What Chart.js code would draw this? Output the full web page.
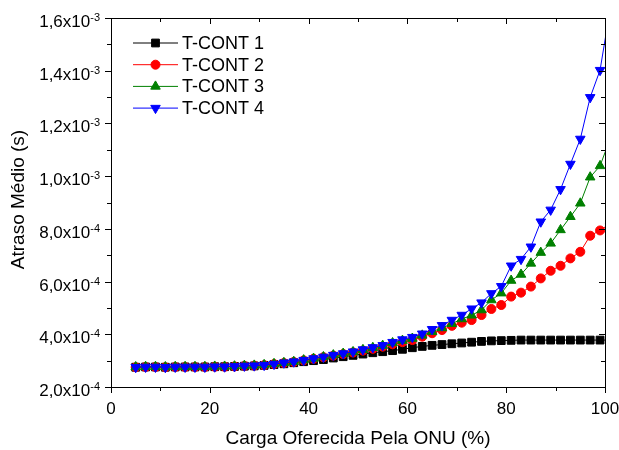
<!DOCTYPE html>
<html>
<head>
<meta charset="utf-8">
<script src="https://cdn.jsdelivr.net/npm/chart.js@4.4.1/dist/chart.umd.min.js"></script>
<style>
  html, body { margin: 0; padding: 0; background: #fff; }
  #wrap { width: 619px; height: 450px; }
</style>
</head>
<body>
<div id="wrap"><canvas id="delayChart" width="619" height="450"></canvas></div>
<script>
// offered load (%) -- last point sits just past the axis end, so only its line shows
const loadPct = [5, 7, 9, 11, 13, 15, 17, 19, 21, 23, 25, 27, 29, 31, 33, 35, 37, 39, 41, 43,
  45, 47, 49, 51, 53, 55, 57, 59, 61, 63, 65, 67, 69, 71, 73, 75, 77, 79, 81, 83,
  85, 87, 89, 91, 93, 95, 97, 99, 101];

// mean delay, in units of 1e-4 s
const tcont1 = [2.75, 2.76, 2.76, 2.75, 2.76, 2.76, 2.76, 2.76, 2.77, 2.77, 2.78, 2.79, 2.80, 2.82, 2.85, 2.88, 2.92, 2.96, 3.00, 3.04,
  3.10, 3.15, 3.20, 3.25, 3.30, 3.34, 3.38, 3.43, 3.49, 3.54, 3.58, 3.61, 3.64, 3.67, 3.70, 3.73, 3.75, 3.76, 3.77, 3.78,
  3.78, 3.78, 3.78, 3.78, 3.78, 3.78, 3.78, 3.78, 3.78];
const tcont2 = [2.75, 2.76, 2.76, 2.75, 2.76, 2.76, 2.76, 2.76, 2.77, 2.77, 2.78, 2.80, 2.81, 2.83, 2.87, 2.91, 2.95, 3.01, 3.07, 3.13,
  3.19, 3.25, 3.31, 3.38, 3.45, 3.53, 3.62, 3.70, 3.78, 3.91, 4.04, 4.16, 4.32, 4.44, 4.54, 4.73, 4.96, 5.11, 5.43, 5.58,
  5.81, 6.12, 6.41, 6.60, 6.88, 7.13, 7.74, 7.94, 8.20];
const tcont3 = [2.76, 2.77, 2.77, 2.76, 2.77, 2.77, 2.77, 2.77, 2.78, 2.78, 2.79, 2.81, 2.82, 2.84, 2.88, 2.92, 2.96, 3.02, 3.08, 3.14,
  3.21, 3.27, 3.33, 3.41, 3.49, 3.57, 3.67, 3.76, 3.84, 3.96, 4.10, 4.24, 4.40, 4.58, 4.72, 4.92, 5.30, 5.56, 6.04, 6.27,
  6.69, 7.10, 7.45, 7.96, 8.46, 8.97, 9.96, 10.39, 11.40];
const tcont4 = [2.75, 2.76, 2.76, 2.75, 2.76, 2.76, 2.76, 2.76, 2.77, 2.77, 2.78, 2.80, 2.81, 2.83, 2.87, 2.92, 2.96, 3.02, 3.08, 3.14,
  3.21, 3.27, 3.34, 3.42, 3.50, 3.58, 3.70, 3.80, 3.89, 4.02, 4.19, 4.34, 4.54, 4.73, 4.97, 5.20, 5.55, 5.82, 6.60, 6.85,
  7.32, 8.27, 8.72, 9.50, 10.46, 11.41, 12.99, 14.02, 16.30];

const seriesNames = ['T-CONT 1', 'T-CONT 2', 'T-CONT 3', 'T-CONT 4'];
const xTicks = [0, 20, 40, 60, 80, 100];
const yTicks = [2, 4, 6, 8, 10, 12, 14, 16];
const yTickMantissa = ['2,0', '4,0', '6,0', '8,0', '1,0', '1,2', '1,4', '1,6'];
const yTickExponent = ['-4', '-4', '-4', '-4', '-3', '-3', '-3', '-3'];

const FONT = '"Liberation Sans", Arial, sans-serif';

function toPoints(ys) {
  return loadPct.map((x, i) => ({ x: x, y: ys[i] }));
}

function makeSet(label, ys, color, style, rot, radius, order) {
  return {
    label: label,
    data: toPoints(ys),
    borderColor: color,
    backgroundColor: color,
    borderWidth: 1,
    tension: 0,
    pointStyle: style,
    pointRotation: rot,
    pointRadius: radius,
    pointBackgroundColor: color,
    pointBorderColor: color,
    pointBorderWidth: 1,
    order: order
  };
}

const datasets = [
  makeSet(seriesNames[0], tcont1, '#000000', 'rect', 0, 5.5, 3),
  makeSet(seriesNames[1], tcont2, '#ff0000', 'circle', 0, 4.5, 2),
  makeSet(seriesNames[2], tcont3, '#008000', 'triangle', 0, 5.5, 1),
  makeSet(seriesNames[3], tcont4, '#0000ff', 'triangle', 180, 5.5, 0)
];

function hline(ctx, x1, y1, x2, y2) {
  ctx.beginPath();
  ctx.moveTo(x1, y1);
  ctx.lineTo(x2, y2);
  ctx.stroke();
}

// frame, ticks, labels and the in-plot legend, Origin style
const originFrame = {
  id: 'originFrame',
  beforeDraw(chart) {
    const ctx = chart.ctx;
    ctx.save();
    ctx.fillStyle = '#fff';
    ctx.fillRect(0, 0, chart.width, chart.height);
    ctx.restore();
  },
  afterDraw(chart) {
    const { ctx, chartArea: a, scales: { x, y } } = chart;
    ctx.save();
    ctx.strokeStyle = '#000';
    ctx.lineWidth = 1;
    ctx.strokeRect(Math.round(a.left) + 0.5, Math.round(a.top) + 0.5,
      Math.round(a.right - a.left), Math.round(a.bottom - a.top));

    // x ticks: outward at bottom, inward at top
    for (let v = 0; v <= 100; v += 10) {
      const px = Math.round(x.getPixelForValue(v)) + 0.5;
      const len = v % 20 === 0 ? 6 : 4;
      hline(ctx, px, a.bottom, px, a.bottom + len);
      hline(ctx, px, a.top, px, a.top + len);
    }
    // y ticks: outward at left, inward at right
    for (let v = 2; v <= 16; v += 1) {
      const py = Math.round(y.getPixelForValue(v)) + 0.5;
      const len = v % 2 === 0 ? 6 : 4;
      hline(ctx, a.left - len, py, a.left, py);
      hline(ctx, a.right - len, py, a.right, py);
    }

    ctx.fillStyle = '#000';
    ctx.font = '17px ' + FONT;
    ctx.textAlign = 'center';
    ctx.textBaseline = 'alphabetic';
    xTicks.forEach(v => {
      ctx.fillText(String(v), x.getPixelForValue(v), a.bottom + 27);
    });

    yTicks.forEach((v, i) => {
      const py = y.getPixelForValue(v);
      ctx.font = '11px ' + FONT;
      const ew = ctx.measureText(yTickExponent[i]).width;
      ctx.textAlign = 'right';
      ctx.fillText(yTickExponent[i], a.left - 11, py + 3);
      ctx.font = '17px ' + FONT;
      ctx.fillText(yTickMantissa[i] + 'x10', a.left - 11 - ew, py + 9);
    });

    // axis titles
    ctx.font = '19px ' + FONT;
    ctx.textAlign = 'center';
    ctx.textBaseline = 'middle';
    ctx.fillText('Carga Oferecida Pela ONU (%)', (a.left + a.right) / 2, a.bottom + 52);
    ctx.save();
    ctx.translate(19, (a.top + a.bottom) / 2 - 3);
    ctx.rotate(-Math.PI / 2);
    ctx.fillText('Atraso Médio (s)', 0, 0);
    ctx.restore();

    // legend inside the plot
    chart.data.datasets.forEach((ds, i) => {
      const ly = a.top + 25 + i * 21.7;
      const lx = a.left + 22;
      ctx.strokeStyle = ds.borderColor;
      ctx.lineWidth = 1;
      hline(ctx, lx, ly, lx + 45, ly);
      ctx.fillStyle = ds.pointBackgroundColor;
      ctx.strokeStyle = ds.pointBorderColor;
      Chart.helpers.drawPoint(ctx, {
        pointStyle: ds.pointStyle,
        rotation: ds.pointRotation,
        radius: ds.pointRadius,
        borderWidth: 1
      }, lx + 22.5, ly);
      ctx.fillStyle = '#000';
      ctx.font = '18px ' + FONT;
      ctx.textAlign = 'left';
      ctx.fillText(ds.label, lx + 49, ly + 1);
    });
    ctx.restore();
  }
};

new Chart(document.getElementById('delayChart'), {
  type: 'line',
  data: { datasets: datasets },
  options: {
    responsive: false,
    animation: false,
    devicePixelRatio: 1,
    layout: { autoPadding: false, padding: { left: 103, right: 14, top: 18, bottom: 55 } },
    plugins: {
      legend: { display: false },
      tooltip: { enabled: false }
    },
    scales: {
      x: {
        type: 'linear',
        min: 0,
        max: 100,
        ticks: { display: false },
        grid: { display: false },
        border: { display: false }
      },
      y: {
        type: 'linear',
        min: 2,
        max: 16,
        ticks: { display: false },
        grid: { display: false },
        border: { display: false }
      }
    }
  },
  plugins: [originFrame]
});
</script>
</body>
</html>
